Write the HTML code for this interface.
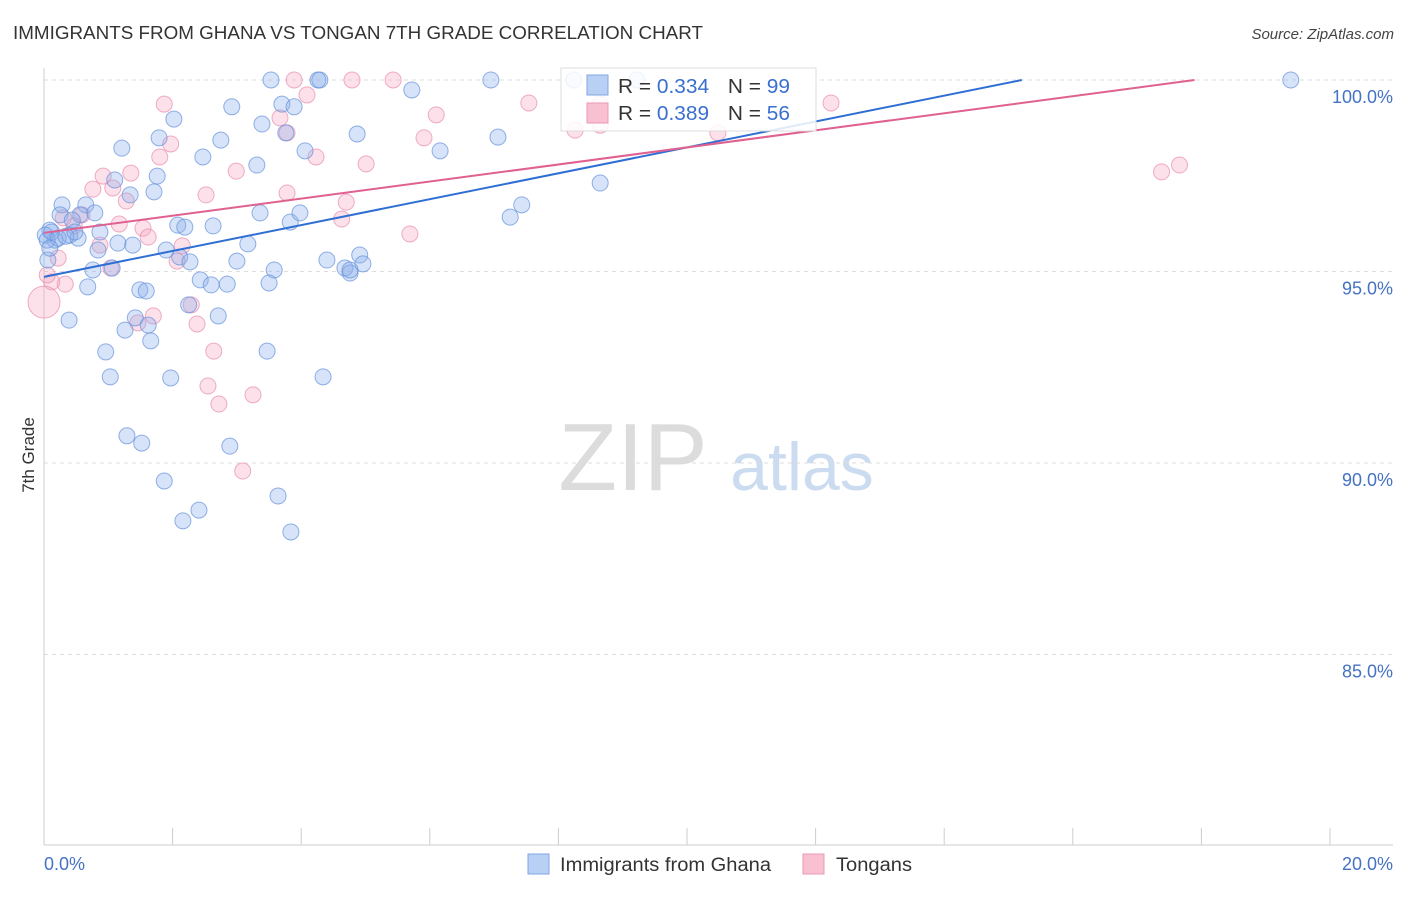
<!DOCTYPE html>
<html><head><meta charset="utf-8"><style>
body{margin:0;background:#fff;font-family:"Liberation Sans",sans-serif;}
svg text{font-family:"Liberation Sans",sans-serif;}
</style></head><body>
<svg id="chart" width="1406" height="892" viewBox="0 0 1406 892" xmlns="http://www.w3.org/2000/svg">
<text x="13" y="39" font-size="18" fill="#333" textLength="690" lengthAdjust="spacingAndGlyphs">IMMIGRANTS FROM GHANA VS TONGAN 7TH GRADE CORRELATION CHART</text>
<text x="1394" y="39" font-size="15" fill="#444" font-style="italic" text-anchor="end">Source: ZipAtlas.com</text>
<g>
<text x="633" y="490" font-size="96" fill="#dcdcdc" text-anchor="middle" font-family="Liberation Serif, serif">ZIP</text>
<text x="802" y="490" font-size="68" fill="#ccdcf0" text-anchor="middle">atlas</text>
</g>
<g id="grid"></g>
<g id="axes"></g>
<g id="points"></g>
<g id="lines"></g>
<text transform="translate(34,455) rotate(-90)" font-size="17" fill="#333" text-anchor="middle">7th Grade</text>
<g>
<rect x="561" y="68" width="255" height="63" fill="rgba(255,255,255,0.85)" stroke="#ddd"/>
<rect x="587" y="75" width="21" height="20" fill="#b8d0f4" stroke="#7fa6e0"/>
<rect x="587" y="103" width="21" height="20" fill="#f8c0d0" stroke="#e89ab4"/>
<text x="618" y="93" font-size="20" fill="#333" textLength="172" lengthAdjust="spacingAndGlyphs">R = <tspan fill="#3a6fd0">0.334</tspan><tspan dx="18">N = </tspan><tspan fill="#3a6fd0">99</tspan></text>
<text x="618" y="120" font-size="20" fill="#333" textLength="172" lengthAdjust="spacingAndGlyphs">R = <tspan fill="#3a6fd0">0.389</tspan><tspan dx="18">N = </tspan><tspan fill="#3a6fd0">56</tspan></text>
</g>
<g>
<rect x="528" y="854" width="21" height="20" fill="#b8d0f4" stroke="#7fa6e0"/>
<text x="560" y="871" font-size="19" fill="#333" textLength="211" lengthAdjust="spacingAndGlyphs">Immigrants from Ghana</text>
<rect x="803" y="854" width="21" height="20" fill="#f8c0d0" stroke="#e89ab4"/>
<text x="836" y="871" font-size="19" fill="#333" textLength="76" lengthAdjust="spacingAndGlyphs">Tongans</text>
</g>
</svg>
<script>
const yTicks=[100,95,90,85];
const yTickLabels=["100.0%","95.0%","90.0%","85.0%"];
const xTicks=[0,2,4,6,8,10,12,14,16,18,20];
const xTickLabels=["0.0%","20.0%"];
const ghanaX=[3.53,4.26,6.95,8.24,19.39,5.72,2.92,3.70,3.89,2.02,3.39,1.79,2.75,4.87,7.06,3.76,1.21,4.06,6.16,2.47,3.31,1.76,8.65,1.10,1.34,1.71,0.28,0.65,0.79,0.25,0.56,0.44,2.08,2.63,2.19,3.83,3.98,3.36,7.43,7.25,0.09,0.40,0.87,0.17,0.53,1.15,1.38,3.17,1.90,0.84,2.11,2.27,3.00,4.40,4.91,4.96,4.68,4.76,3.58,1.06,0.76,2.43,2.85,2.60,3.50,0.68,1.49,1.59,2.25,2.71,1.42,0.39,1.26,1.62,1.66,0.96,3.47,1.03,1.97,4.34,1.29,1.52,2.89,1.87,3.64,2.41,2.16,3.84,0.02,0.05,0.12,0.22,0.34,0.48,0.06,0.09,9.22,4.29,4.76];
const ghanaY=[100,100,100,100,100,99.74,99.30,99.37,99.30,98.98,98.85,98.49,98.43,98.59,98.51,98.62,98.22,98.15,98.15,97.99,97.78,97.49,97.31,97.39,97.00,97.08,96.74,96.74,96.53,96.48,96.48,96.34,96.21,96.19,96.16,96.29,96.53,96.53,96.74,96.42,96.08,95.95,96.03,95.82,95.87,95.74,95.69,95.72,95.56,95.56,95.38,95.25,95.27,95.30,95.43,95.20,95.09,94.96,95.04,95.09,95.04,94.78,94.67,94.65,94.70,94.60,94.52,94.49,94.13,93.84,93.79,93.73,93.47,93.60,93.19,92.90,92.92,92.25,92.22,92.25,90.71,90.52,90.44,89.53,89.14,88.77,88.49,88.20,95.95,95.82,96.03,95.87,95.92,96.03,95.30,95.61,100,100,95.04];
const tonganX=[3.89,4.79,5.43,7.54,1.87,12.24,4.09,8.65,6.10,3.67,8.26,10.48,5.91,1.97,1.80,4.23,5.01,2.99,17.66,17.38,0.92,1.35,1.07,0.76,2.52,3.78,4.70,1.28,4.63,1.17,1.54,0.59,0.47,5.69,1.62,2.15,0.87,2.07,0.22,0.33,0.12,0.00,2.29,1.70,2.38,1.46,2.64,2.55,3.25,2.72,3.09,8.65,3.78,0.05,1.04,0.30];
const tonganY=[100,100,100,99.40,99.37,99.40,99.61,99.37,99.09,99.01,98.69,98.62,98.49,98.33,97.99,97.99,97.81,97.62,97.78,97.60,97.49,97.57,97.18,97.15,97.00,97.05,96.81,96.84,96.37,96.24,96.13,96.48,96.19,95.98,95.90,95.67,95.69,95.27,95.35,94.67,94.73,94.20,94.13,93.84,93.63,93.66,92.92,92.01,91.78,91.54,89.79,98.82,98.62,94.91,95.09,96.40];
const tonganSize=[8,8,8,8,8,8,8,8,8,8,8,8,8,8,8,8,8,8,8,8,8,8,8,8,8,8,8,8,8,8,8,8,8,8,8,8,8,8,8,8,8,16,8,8,8,8,8,8,8,8,8,8,8,8,8,8];
const ghanaFit=[94.86,0.338];
const tonganFit=[96.01,0.223];

const NS="http://www.w3.org/2000/svg";
const X0=44,X1=1330,Y100=80,PXPER=38.3;
function xs(v){return X0+(X1-X0)*v/20;}
function ys(v){return Y100+(100-v)*PXPER;}
function mk(tag,attrs,parent){const e=document.createElementNS(NS,tag);for(const k in attrs)e.setAttribute(k,attrs[k]);parent.appendChild(e);return e;}
const grid=document.getElementById('grid'),axes=document.getElementById('axes'),pts=document.getElementById('points'),lines=document.getElementById('lines');
yTicks.forEach((t,i)=>{
  const l=mk('line',{x1:44,x2:1393,y1:ys(t),y2:ys(t),stroke:'#ddd','stroke-dasharray':'4,4'},grid);
  
  
  const tx=mk('text',{x:1393,y:ys(t)+23,'font-size':18,fill:'#4472c4','text-anchor':'end'},axes);
  tx.textContent=yTickLabels[i];
  
  
});
const ya=mk('line',{x1:44,x2:44,y1:68,y2:845,stroke:'#ccc'},axes);


const xa=mk('line',{x1:44,x2:1393,y1:845,y2:845,stroke:'#ccc'},axes);


xTicks.forEach(t=>{
  const l=mk('line',{x1:xs(t),x2:xs(t),y1:828,y2:845,stroke:'#ccc'},axes);
  
  
});
const xl0=mk('text',{x:44,y:870,'font-size':18,fill:'#4472c4'},axes);xl0.textContent=xTickLabels[0];


const xl1=mk('text',{x:1393,y:870,'font-size':18,fill:'#4472c4','text-anchor':'end'},axes);xl1.textContent=xTickLabels[1];


tonganX.forEach((v,i)=>{
  const c=mk('circle',{cx:xs(v),cy:ys(tonganY[i]),r:tonganSize[i],fill:'rgba(245,170,195,0.35)',stroke:'rgba(232,140,172,0.7)','stroke-width':1},pts);
  
  
});
ghanaX.forEach((v,i)=>{
  const c=mk('circle',{cx:xs(v),cy:ys(ghanaY[i]),r:8,fill:'rgba(140,175,235,0.35)',stroke:'rgba(100,145,220,0.7)','stroke-width':1},pts);
  
  
});
function fitLine(f,color,name){
  const xe=Math.min(20,(100-f[0])/f[1]);
  const l=mk('line',{x1:xs(0),y1:ys(f[0]),x2:xs(xe),y2:ys(f[0]+f[1]*xe),stroke:color,'stroke-width':2},lines);
  
  
}
fitLine(ghanaFit,'#2f6fd4','ghana-trend-line');
fitLine(tonganFit,'#e0608f','tongan-trend-line');
</script>
</body></html>
